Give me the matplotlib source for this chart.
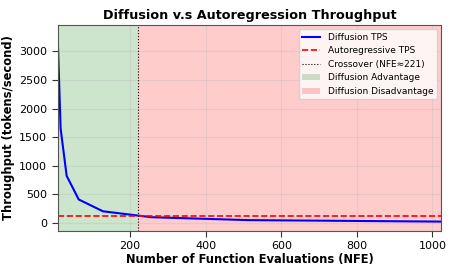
import matplotlib
matplotlib.use("Agg")
import matplotlib.pyplot as plt

nfe = [8, 16, 32, 64, 128, 256, 512, 1024]
diffusion_tps = [3300, 1650, 825, 412, 206, 103, 52, 26]
ar_tps = 119.5
crossover = 221

fig, ax = plt.subplots(figsize=(4.57, 2.74), dpi=100)

ax.axvspan(nfe[0], crossover, color="green", alpha=0.2, lw=0, label="Diffusion Advantage")
ax.axvspan(crossover, nfe[-1], color="red", alpha=0.2, lw=0, label="Diffusion Disadvantage")
ax.plot(nfe, diffusion_tps, color="blue", lw=1.5, label="Diffusion TPS")
ax.axhline(ar_tps, color="red", ls="--", lw=1.2, label="Autoregressive TPS")
ax.axvline(crossover, color="black", ls=":", lw=0.8, label=f"Crossover (NFE≈{crossover})")

ax.set_xlim(nfe[0], nfe[-1])
ax.set_xticks([200, 400, 600, 800, 1000])
ax.set_yticks([0, 500, 1000, 1500, 2000, 2500, 3000])
ax.tick_params(labelsize=8, length=4, color="#333333")
ax.grid(True, color="#bbbbbb", alpha=0.35, lw=0.8)
for s in ax.spines.values():
    s.set_color("#555555")

ax.set_title("Diffusion v.s Autoregression Throughput", fontsize=9.2, fontweight="bold", pad=4)
ax.set_xlabel("Number of Function Evaluations (NFE)", fontsize=8.3, fontweight="bold", labelpad=1)
ax.set_ylabel("Throughput (tokens/second)", fontsize=8.3, fontweight="bold", labelpad=3)

h, l = ax.get_legend_handles_labels()
order = [2, 3, 4, 0, 1]
ax.legend([h[i] for i in order], [l[i] for i in order], fontsize=6.5, loc="upper right")

fig.subplots_adjust(left=0.126, right=0.966, top=0.91, bottom=0.157)
fig.savefig("out.png", dpi=100)
